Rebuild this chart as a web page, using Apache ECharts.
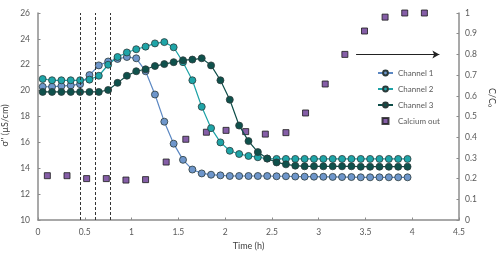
<!DOCTYPE html>
<html>
<head>
<meta charset="utf-8">
<script src="https://cdn.jsdelivr.net/npm/echarts@6/dist/echarts.min.js"></script>
<style>html,body{margin:0;padding:0;background:#fff;}#c{width:500px;height:257px;}</style>
</head>
<body>
<div id="c"></div>
<script>
var times = [0.05,0.15,0.25,0.35,0.45,0.55,0.65,0.75,0.85,0.95,1.05,1.15,1.25,1.35,1.45,1.55,1.65,1.75,1.85,1.95,
             2.05,2.15,2.25,2.35,2.45,2.55,2.65,2.75,2.85,2.95,3.05,3.15,3.25,3.35,3.45,3.55,3.65,3.75,3.85,3.95];
var channel1 = [20.3,20.3,20.35,20.4,20.5,21.2,21.95,22.25,22.45,22.6,22.5,21.5,19.7,17.6,15.9,14.65,13.9,13.6,13.5,13.45,
                13.4,13.4,13.4,13.4,13.4,13.38,13.38,13.36,13.35,13.35,13.34,13.33,13.32,13.32,13.3,13.3,13.3,13.3,13.3,13.3];
var channel2 = [20.9,20.8,20.8,20.8,20.8,20.85,21.15,22.0,22.6,22.95,23.2,23.4,23.65,23.75,23.35,22.2,20.8,18.75,17.1,16.0,
                15.35,15.1,14.95,14.85,14.75,14.72,14.72,14.72,14.72,14.72,14.72,14.72,14.72,14.72,14.72,14.72,14.72,14.72,14.72,14.72];
var channel3 = [19.9,19.9,19.9,19.9,19.9,19.9,19.9,20.05,20.6,21.15,21.5,21.65,21.9,22.05,22.2,22.35,22.4,22.5,21.95,20.8,
                19.3,17.3,16.1,15.25,14.75,14.45,14.3,14.2,14.15,14.15,14.15,14.15,14.15,14.15,14.12,14.12,14.12,14.12,14.12,14.12];
var calciumTimes = [0.1,0.31,0.52,0.73,0.94,1.15,1.37,1.58,1.8,2.01,2.22,2.43,2.65,2.86,3.07,3.28,3.49,3.71,3.92,4.13];
var calciumOut = [0.214,0.214,0.2,0.2,0.193,0.195,0.28,0.39,0.424,0.433,0.427,0.415,0.422,0.517,0.657,0.8,0.913,0.98,1.0,1.0];
var dashedTimes = [0.45,0.61,0.773];
var arrowStart = [3.40,0.8];
var arrowEnd = [4.29,0.8];
var names = ['Channel 1','Channel 2','Channel 3','Calcium out'];

function pairs(xs, ys){ return xs.map(function(x,i){ return [x, ys[i]]; }); }

var FONT = 'Lato';
var labelColor = '#595959';
var axisColor = '#8c8c8c';

function lineSeries(name, data, lineColor, fill){
  return {
    name: name, type: 'line', yAxisIndex: 0, data: pairs(times, data),
    symbol: 'circle', symbolSize: 7,
    lineStyle: {color: lineColor, width: 1.2},
    itemStyle: {color: fill, borderColor: '#2b3a3a', borderWidth: 0.8},
    emphasis: {disabled: true}, animation: false
  };
}

var chart = echarts.init(document.getElementById('c'), null, {renderer: 'canvas'});
var s1 = lineSeries(names[0], channel1, '#5b87c2', '#6e96cb');
s1.markLine = {
  silent: true, symbol: ['none','none'], label: {show: false},
  lineStyle: {color: '#333', type: [3,2], width: 1},
  data: dashedTimes.map(function(t){ return {xAxis: t}; })
};
var s2 = lineSeries(names[1], channel2, '#1ca2a6', '#1ea5a8');
var s3 = lineSeries(names[2], channel3, '#0d4d48', '#0f514c');
var s4 = {
  name: names[3], type: 'scatter', yAxisIndex: 1, data: pairs(calciumTimes, calciumOut),
  symbol: 'rect', symbolSize: 6,
  itemStyle: {color: '#673691', borderColor: '#1a1a1a', borderWidth: 1},
  emphasis: {disabled: true}, animation: false,
  markLine: {
    silent: true, symbol: ['none','arrow'], symbolSize: [6,7], label: {show: false},
    lineStyle: {color: '#222', type: 'solid', width: 1},
    data: [[{coord: arrowStart}, {coord: arrowEnd}]]
  }
};

chart.setOption({
  animation: false,
  textStyle: {fontFamily: FONT},
  grid: {left: 38, right: 41, top: 13, bottom: 37, containLabel: false, outerBoundsMode: 'none'},
  legend: {
    orient: 'vertical', left: 372, top: 64, itemWidth: 15, itemHeight: 6, itemGap: 8,
    symbolKeepAspect: true,
    textStyle: {fontFamily: FONT, fontSize: 8, color: '#595959'},
    data: [
      {name: names[0]}, {name: names[1]}, {name: names[2]},
      {name: names[3], icon: 'path://M0,0L10,0L10,10L0,10Z'}
    ]
  },
  xAxis: {
    type: 'value', min: 0, max: 4.5, interval: 0.5,
    name: 'Time (h)', nameLocation: 'middle', nameGap: 22,
    nameTextStyle: {fontFamily: FONT, fontSize: 9, color: '#404040'},
    axisLine: {lineStyle: {color: axisColor, width: 1.5}},
    axisTick: {show: true, inside: true, length: 2.5, lineStyle: {color: axisColor}},
    axisLabel: {fontFamily: FONT, fontSize: 8.5, color: labelColor, margin: 8},
    splitLine: {show: false}
  },
  yAxis: [{
    type: 'value', min: 10, max: 26, interval: 2,
    name: 'σ\'\' (µS/cm)', nameLocation: 'middle', nameGap: 23,
    nameTextStyle: {fontFamily: FONT, fontSize: 9, color: '#404040', padding: [0,18,0,0]},
    axisLine: {show: true, lineStyle: {color: axisColor, width: 1.5}},
    axisTick: {show: true, inside: true, length: 2.5, lineStyle: {color: axisColor}},
    axisLabel: {fontFamily: FONT, fontSize: 8.5, color: labelColor, margin: 8},
    splitLine: {show: false}
  }, {
    type: 'value', min: 0, max: 1, interval: 0.1, position: 'right',
    name: 'C/C₀', nameLocation: 'middle', nameGap: 24, nameRotate: -90,
    nameTextStyle: {fontFamily: FONT, fontSize: 9, color: '#404040', padding: [0,38,0,0]},
    axisLine: {show: true, lineStyle: {color: axisColor, width: 1.5}},
    axisTick: {show: true, inside: true, length: 2.5, lineStyle: {color: axisColor}},
    axisLabel: {fontFamily: FONT, fontSize: 8.5, color: labelColor, margin: 6},
    splitLine: {show: false}
  }],
  series: [s1, s2, s3, s4]
});
</script>
</body>
</html>
